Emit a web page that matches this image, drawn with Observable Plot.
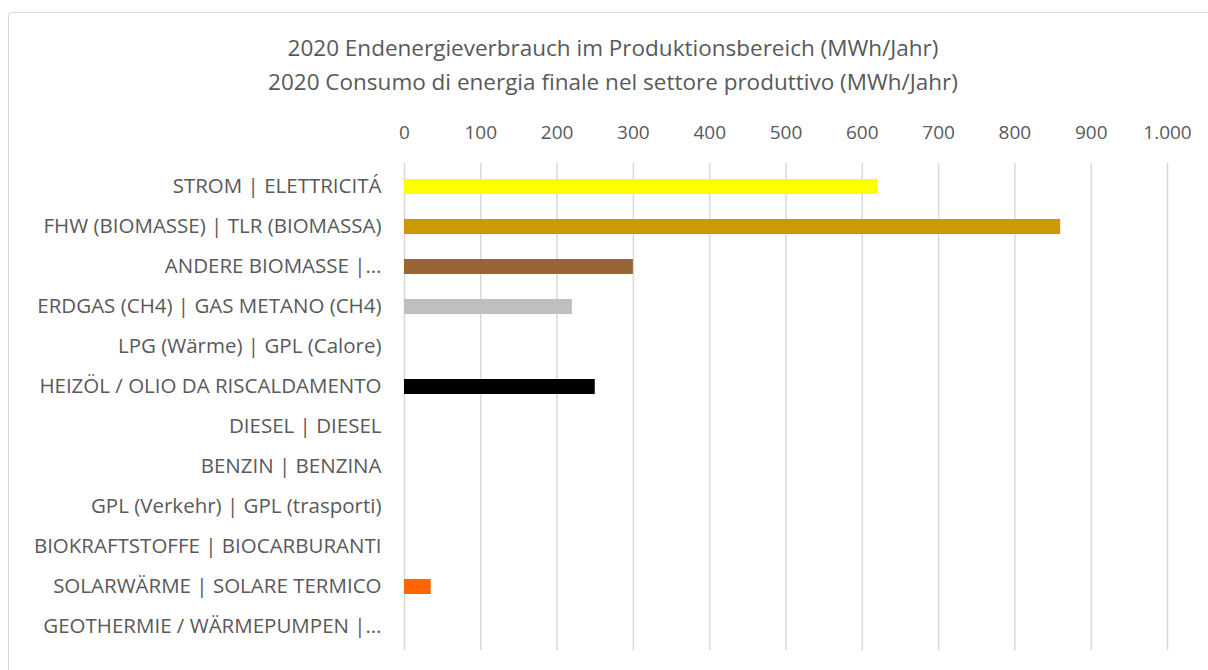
<!DOCTYPE html>
<html>
<head>
<meta charset="utf-8">
<script src="https://cdn.jsdelivr.net/npm/d3@7"></script>
<script src="https://cdn.jsdelivr.net/npm/@observablehq/plot@0.6"></script>
<style>
  html, body { margin: 0; padding: 0; background: #fff; overflow: hidden; }
  #wrap { position: relative; width: 1208px; height: 670px; overflow: hidden; font-family: "Open Sans", sans-serif; }
  #frame { position: absolute; left: 8px; top: 12px; width: 1260px; height: 720px; border: 1px solid #d9d9d9; border-radius: 4px; box-sizing: border-box; }
  #title { position: absolute; left: 0; top: 31px; width: 1226px; text-align: center; color: #595959; font-size: 22.5px; line-height: 34px; }
  #chart { position: absolute; left: 0; top: 98px; }
</style>
</head>
<body>
<div id="wrap">
  <div id="frame"></div>
  <div id="title">2020 Endenergieverbrauch im Produktionsbereich (MWh/Jahr)<br>2020 Consumo di energia finale nel settore produttivo (MWh/Jahr)</div>
  <div id="chart"></div>
</div>
<script>
const categories = [
  "STROM | ELETTRICITÁ",
  "FHW (BIOMASSE) | TLR (BIOMASSA)",
  "ANDERE BIOMASSE |…",
  "ERDGAS (CH4) | GAS METANO (CH4)",
  "LPG (Wärme) | GPL (Calore)",
  "HEIZÖL / OLIO DA RISCALDAMENTO",
  "DIESEL | DIESEL",
  "BENZIN | BENZINA",
  "GPL (Verkehr) | GPL (trasporti)",
  "BIOKRAFTSTOFFE | BIOCARBURANTI",
  "SOLARWÄRME | SOLARE TERMICO",
  "GEOTHERMIE / WÄRMEPUMPEN |…"
];
const values = [620, 860, 300, 220, 0, 250, 0, 0, 0, 0, 35, 0];
const colors = ["#FFFF00", "#CC9900", "#996633", "#BFBFBF", "#A6A6A6", "#000000", "#7F7F7F", "#595959", "#D9D9D9", "#70AD47", "#FF6600", "#C00000"];
const xTicks = [0, 100, 200, 300, 400, 500, 600, 700, 800, 900, 1000];

const data = categories.map((c, i) => ({category: c, value: values[i], color: colors[i]}));
const fmt = d => d3.format(",")(d).replace(/,/g, ".");

const chart = Plot.plot({
  width: 1208,
  height: 572,
  marginLeft: 404,
  marginRight: 41,
  marginTop: 65,
  marginBottom: 20,
  style: {fontFamily: "'Open Sans', sans-serif", fontSize: "20px", color: "#595959", background: "transparent"},
  x: {domain: [0, 1000], ticks: xTicks, label: null},
  y: {domain: categories, paddingInner: 0.63, paddingOuter: 0.315, label: null},
  marks: [
    Plot.gridX(xTicks, {stroke: "#d9d9d9", strokeOpacity: 1, strokeWidth: 1.5}),
    Plot.barX(data, {x: "value", y: "category", fill: "color"}),
    Plot.axisX(xTicks, {anchor: "top", tickSize: 0, tickPadding: 25, tickFormat: fmt, fill: "#595959", fontSize: 19, label: null}),
    Plot.axisY({tickSize: 0, tickPadding: 23, fill: "#595959", fontSize: 20.5, label: null, dy: -1})
  ]
});
document.getElementById("chart").appendChild(chart);
</script>
</body>
</html>
